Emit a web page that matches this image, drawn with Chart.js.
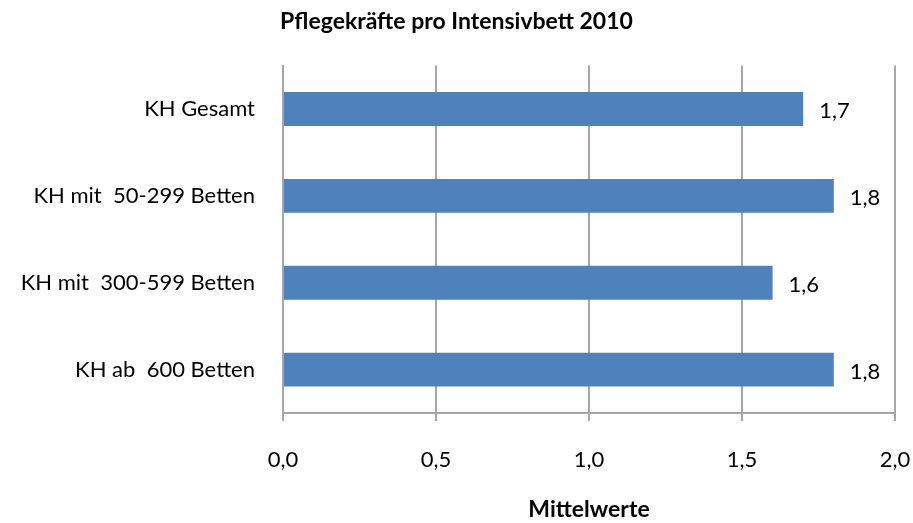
<!DOCTYPE html>
<html lang="de">
<head>
    <meta charset="UTF-8">
    <title>Pflegekräfte pro Intensivbett 2010</title>
    <script src="https://cdn.jsdelivr.net/npm/chart.js"></script>
    <style>
        html, body { margin: 0; padding: 0; background: #fff; }
        #wrap { width: 913px; height: 523px; position: relative; }
    </style>
</head>
<body>
    <div id="wrap"><canvas id="chart"></canvas></div>

    <script>
        const categories = ['KH Gesamt', 'KH mit  50-299 Betten', 'KH mit  300-599 Betten', 'KH ab  600 Betten'];
        const values = [1.7, 1.8, 1.6, 1.8];
        const xTicks = [0, 0.5, 1.0, 1.5, 2.0];

        const fontFamily = "Lato, 'Open Sans', sans-serif";
        const fmt = v => v.toFixed(1).replace('.', ',');

        // value labels to the right of each bar
        const barLabels = {
            id: 'barLabels',
            afterDatasetsDraw(chart) {
                const ctx = chart.ctx;
                const meta = chart.getDatasetMeta(0);
                ctx.save();
                ctx.font = '22px ' + fontFamily;
                ctx.fillStyle = '#000';
                ctx.textAlign = 'left';
                ctx.textBaseline = 'middle';
                meta.data.forEach((bar, i) => {
                    ctx.fillText(fmt(values[i]), bar.x + 16, bar.y + 2);
                });
                ctx.restore();
            }
        };

        new Chart(document.getElementById('chart'), {
            type: 'bar',
            data: {
                labels: categories,
                datasets: [{
                    data: values,
                    backgroundColor: '#4F81BD',
                    barPercentage: 0.39,
                    categoryPercentage: 1
                }]
            },
            options: {
                indexAxis: 'y',
                responsive: true,
                maintainAspectRatio: false,
                animation: false,
                layout: { padding: 0 },
                plugins: {
                    legend: { display: false },
                    tooltip: { enabled: false },
                    title: {
                        display: true,
                        text: 'Pflegekräfte pro Intensivbett 2010',
                        color: '#000',
                        font: { family: fontFamily, size: 23, weight: 'bold' },
                        padding: { top: 8, bottom: 30 }
                    }
                },
                scales: {
                    x: {
                        min: 0,
                        max: 2,
                        afterBuildTicks: axis => { axis.ticks = xTicks.map(v => ({ value: v })); },
                        afterFit: axis => {
                            axis.height = 110;
                            axis.paddingLeft = 0;
                            axis.paddingRight = 18;
                        },
                        ticks: {
                            color: '#000',
                            font: { family: fontFamily, size: 22 },
                            padding: 26,
                            callback: v => fmt(v)
                        },
                        grid: { color: '#a6a6a6', lineWidth: 2, tickLength: 8 },
                        border: { color: '#a6a6a6', width: 2 },
                        title: {
                            display: true,
                            text: 'Mittelwerte',
                            color: '#000',
                            font: { family: fontFamily, size: 23, weight: 'bold' },
                            padding: { top: 0, bottom: 0 }
                        }
                    },
                    y: {
                        afterFit: axis => { axis.width = 283; },
                        ticks: {
                            color: '#000',
                            font: { family: fontFamily, size: 22 },
                            padding: 20
                        },
                        grid: { display: false },
                        border: { color: '#a6a6a6', width: 2 }
                    }
                }
            },
            plugins: [barLabels]
        });
    </script>
</body>
</html>
